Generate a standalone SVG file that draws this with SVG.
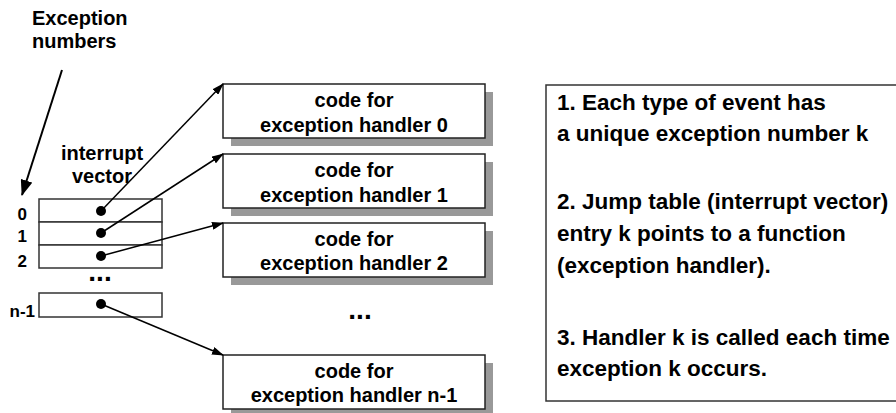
<svg xmlns="http://www.w3.org/2000/svg" width="896" height="413" viewBox="0 0 896 413">
<style>
text{font-family:"Liberation Sans",Arial,sans-serif;font-weight:bold;fill:#000}
.h{font-size:20px;text-anchor:middle}
.lbl{font-size:20px}
.num{font-size:17px;text-anchor:end}
.note{font-size:22.5px}
.dots{font-size:28px;text-anchor:middle}
.box{fill:#fff;stroke:#222;stroke-width:1.5}
.shadow{fill:#999}
.cell{fill:#fff;stroke:#333;stroke-width:1.5}
.conn{stroke:#000;stroke-width:1.5;fill:none;marker-end:url(#ah)}
.big{stroke:#000;stroke-width:2;fill:none;marker-end:url(#ahb)}
.dot{fill:#000}
</style>
<defs>
<marker id="ah" viewBox="0 0 12 8" refX="11" refY="4" markerWidth="12" markerHeight="8" markerUnits="userSpaceOnUse" orient="auto">
<path d="M0,0 L12,4 L0,8 Z" fill="#000"/>
</marker>
<marker id="ahb" viewBox="0 0 16 12" refX="15" refY="6" markerWidth="16" markerHeight="12" markerUnits="userSpaceOnUse" orient="auto">
<path d="M0,0 L16,6 L0,12 Z" fill="#000"/>
</marker>
</defs>

<g id="label-exception-numbers">
<text class="lbl" x="32" y="25">Exception</text>
<text class="lbl" x="32" y="48">numbers</text>
</g>

<g id="handler0">
<rect class="shadow" x="231" y="92" width="262" height="54"/>
<rect class="box" x="223" y="84" width="262" height="54"/>
<text class="h" x="354" y="107">code for</text>
<text class="h" x="354" y="132">exception handler 0</text>
</g>
<g id="handler1">
<rect class="shadow" x="231" y="162" width="262" height="54"/>
<rect class="box" x="223" y="154" width="262" height="54"/>
<text class="h" x="354" y="177">code for</text>
<text class="h" x="354" y="202">exception handler 1</text>
</g>
<g id="handler2">
<rect class="shadow" x="231" y="231" width="262" height="54"/>
<rect class="box" x="223" y="223" width="262" height="54"/>
<text class="h" x="354" y="246">code for</text>
<text class="h" x="354" y="270">exception handler 2</text>
</g>
<g id="handler-dots">
<text class="dots" x="360" y="319">...</text>
</g>
<g id="handlerN">
<rect class="shadow" x="231" y="363" width="262" height="54"/>
<rect class="box" x="223" y="355" width="262" height="54"/>
<text class="h" x="354" y="378">code for</text>
<text class="h" x="354" y="402">exception handler n-1</text>
</g>

<g id="interrupt-vector">
<text class="h" x="102" y="160">interrupt</text>
<text class="h" x="102" y="183">vector</text>
<rect class="cell" x="39" y="199" width="123" height="23"/>
<rect class="cell" x="39" y="222" width="123" height="23"/>
<rect class="cell" x="39" y="245" width="123" height="23"/>
<text class="dots" x="100" y="281">...</text>
<rect class="cell" x="39" y="293" width="123" height="24"/>
<circle class="dot" cx="101" cy="211" r="5"/>
<circle class="dot" cx="101" cy="233" r="5"/>
<circle class="dot" cx="101" cy="256" r="5"/>
<circle class="dot" cx="101" cy="304" r="5"/>
<text class="num" x="27" y="220">0</text>
<text class="num" x="27" y="242">1</text>
<text class="num" x="27" y="267">2</text>
<text class="num" x="35" y="317">n-1</text>
</g>

<g id="notes">
<rect x="546" y="85" width="360" height="316" fill="#fff" stroke="#333" stroke-width="1.5"/>
<text class="note" x="557" y="110">1. Each type of event has</text>
<text class="note" x="557" y="141">a unique exception number k</text>
<text class="note" x="557" y="209">2. Jump table (interrupt vector)</text>
<text class="note" x="557" y="241">entry k points to a function</text>
<text class="note" x="557" y="273">(exception handler).</text>
<text class="note" x="557" y="345">3. Handler k is called each time</text>
<text class="note" x="557" y="376">exception k occurs.</text>
</g>

<g id="connectors">
<line class="big" x1="62" y1="70" x2="22" y2="195"/>
<line class="conn" x1="101" y1="211" x2="223" y2="84"/>
<line class="conn" x1="101" y1="233" x2="223" y2="154"/>
<line class="conn" x1="101" y1="256" x2="223" y2="223"/>
<line class="conn" x1="101" y1="304" x2="223" y2="355"/>
</g>
</svg>
